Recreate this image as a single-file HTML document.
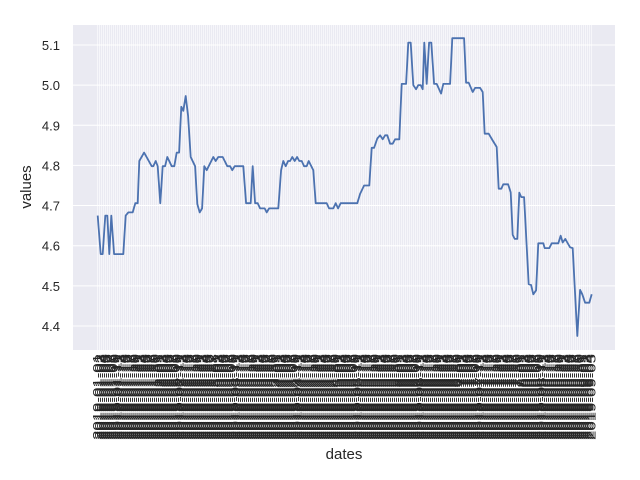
<!DOCTYPE html>
<html><head><meta charset="utf-8"><style>
body{margin:0;background:#fff;font-family:"Liberation Sans",sans-serif}
svg{display:block}
</style></head><body>
<svg id="chart" width="640" height="480" xmlns="http://www.w3.org/2000/svg">
<rect x="73" y="25" width="542" height="325" fill="#eaeaf2"/>
<g id="grid"></g>
<g id="xticks"></g>
<g id="yticks"></g>
<path id="line" fill="none" stroke="#4c72b0" stroke-width="1.8" stroke-linejoin="round"/>
<text x="344" y="459" font-size="15" text-anchor="middle" fill="#262626">dates</text>
<text transform="translate(31,187) rotate(-90)" font-size="15" text-anchor="middle" fill="#262626">values</text>
</svg>
<script>
const days = [0,1.5,2.5,3.8,4.8,5.8,6.8,8.2,12.8,14,15.3,17.5,18.8,20,20.8,23.2,27,27.8,29,30,31.3,32.5,33.7,34.8,37,38.3,39.5,40.7,41.8,42.8,44,45.2,46.5,48.7,49.8,51,52.2,53.3,54.5,57.8,59,60.3,62.5,64.8,66.2,67.3,68.5,72.8,74.2,76.5,77.5,78.7,80,81.2,83.5,84.5,85.7,90.3,91.7,92.8,94,95.2,96.2,97.3,98.5,99.7,100.8,102,103.2,104.5,105.5,107.8,109,114.5,115.7,117.8,119,120.2,121.5,129.8,131.2,133.2,135.8,137,138.2,139.8,141.2,142.5,143.7,144.8,146.2,147.5,148.7,150.8,152,154.2,155.3,156.5,157.8,159.2,160.3,161.5,162.5,163.3,164.5,165.7,166.8,168.2,169.5,171.7,172.8,176.2,177.3,183.2,184.2,185.5,187.5,188.7,191.2,192.5,193.5,195.5,197.5,199.5,200.5,201.8,202.8,205.2,206.5,207.5,208.5,209.8,210.8,211.8,213.2,215.5,216.7,217.8,219.2,220.3,222.8,223.5,225.8,227,230.3,231.5,232.5,233.8,234.8,236.2,237.5,239.8,241.2,242.3,243.7,245.8,247];
const values = [4.675,4.579,4.579,4.675,4.675,4.579,4.675,4.579,4.579,4.675,4.683,4.683,4.706,4.706,4.811,4.832,4.798,4.798,4.811,4.798,4.706,4.798,4.798,4.821,4.798,4.798,4.832,4.832,4.946,4.936,4.973,4.923,4.821,4.798,4.704,4.683,4.693,4.798,4.788,4.821,4.811,4.821,4.821,4.798,4.798,4.788,4.798,4.798,4.706,4.706,4.798,4.706,4.706,4.693,4.693,4.683,4.693,4.693,4.788,4.811,4.798,4.811,4.811,4.821,4.811,4.821,4.811,4.811,4.798,4.798,4.811,4.788,4.706,4.706,4.693,4.693,4.706,4.693,4.706,4.706,4.729,4.75,4.75,4.844,4.844,4.867,4.875,4.865,4.875,4.875,4.854,4.854,4.865,4.865,5.003,5.003,5.106,5.106,5.0,4.99,5.0,5.0,4.99,5.106,5.003,5.106,5.106,5.003,5.003,4.979,5.003,5.003,5.117,5.117,5.006,5.006,4.983,4.993,4.993,4.983,4.879,4.879,4.862,4.846,4.742,4.742,4.753,4.753,4.733,4.627,4.617,4.617,4.732,4.721,4.721,4.504,4.502,4.479,4.489,4.606,4.606,4.594,4.594,4.606,4.606,4.625,4.608,4.617,4.608,4.596,4.594,4.375,4.49,4.479,4.458,4.458,4.479];
const yTicks = [4.4,4.5,4.6,4.7,4.8,4.9,5.0,5.1];
const nDates = 248;
const NS="http://www.w3.org/2000/svg";
const x = d => 97.7 + d*2.0;
const y = v => 45 + (5.1 - v)*401.4;
const grid=document.getElementById('grid'), xt=document.getElementById('xticks'), yt=document.getElementById('yticks');
for(let i=0;i<nDates;i++){
  const l=document.createElementNS(NS,'line');
  
  
  l.setAttribute('x1',x(i));l.setAttribute('x2',x(i));l.setAttribute('y1',25);l.setAttribute('y2',350);
  l.setAttribute('stroke','#fff');l.setAttribute('stroke-width','0.6');
  grid.appendChild(l);
  const dt=new Date(Date.UTC(2019,0,1+i));
  const t=document.createElementNS(NS,'text');
  
  
  t.setAttribute('transform','translate('+(x(i)+4)+',354) rotate(-90)');
  t.setAttribute('text-anchor','end');t.setAttribute('font-size','12');t.setAttribute('fill','#262626');
  t.setAttribute('textLength','86');t.setAttribute('lengthAdjust','spacingAndGlyphs');
  t.textContent=dt.toISOString().slice(0,10);
  xt.appendChild(t);
}
yTicks.forEach(v=>{
  const l=document.createElementNS(NS,'line');
  
  
  l.setAttribute('x1',73);l.setAttribute('x2',615);l.setAttribute('y1',y(v));l.setAttribute('y2',y(v));
  l.setAttribute('stroke','#fff');l.setAttribute('stroke-width','1');
  grid.appendChild(l);
  const t=document.createElementNS(NS,'text');
  
  
  t.setAttribute('x',60);t.setAttribute('y',y(v)+5);t.setAttribute('text-anchor','end');
  t.setAttribute('font-size','13');t.setAttribute('fill','#262626');
  t.textContent=v.toFixed(1);
  yt.appendChild(t);
});
let d='';
for(let i=0;i<values.length;i++){d+=(i?'L':'M')+x(days[i]).toFixed(1)+','+y(values[i]).toFixed(1);}
document.getElementById('line').setAttribute('d',d);
</script>
</body></html>
